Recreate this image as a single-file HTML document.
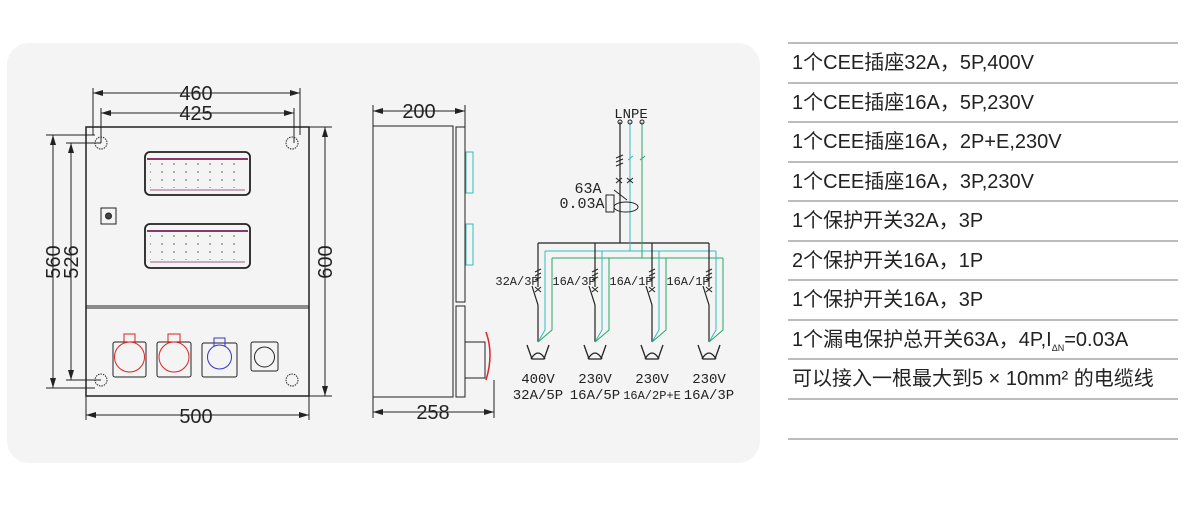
<!DOCTYPE html>
<html><head><meta charset="utf-8"><style>
body{margin:0;width:1199px;height:514px;background:#fff;overflow:hidden;position:relative;font-family:"Liberation Sans","Noto Sans CJK SC",sans-serif}
.bg{position:absolute;left:7px;top:43px;width:753px;height:420px;background:#f4f4f4;border-radius:22px}
.tbl{position:absolute;left:788px;top:42px;width:390px}
.row{height:37.5px;border-top:2px solid #bcbcbc;font-size:20px;line-height:38px;color:#222;padding-left:4px;white-space:nowrap}
svg{position:absolute;left:0;top:0}
</style></head><body>
<div class="bg"></div>
<svg width="1199" height="514" viewBox="0 0 1199 514" font-family="Liberation Sans, sans-serif">
<defs>
<marker id="a" viewBox="0 0 10 6" refX="10" refY="3" markerWidth="10" markerHeight="6" orient="auto-start-reverse"><path d="M0,0L10,3L0,6z" fill="#222"/></marker>
<pattern id="dots" width="12" height="8" patternUnits="userSpaceOnUse"><circle cx="6" cy="4" r="0.8" fill="#555"/></pattern>
</defs>
<g stroke="#222" fill="none" stroke-width="1">
<rect x="86" y="127" width="223" height="269" stroke-width="1.5"/>
<line x1="86" y1="306" x2="309" y2="306"/>
<line x1="86" y1="308" x2="309" y2="308"/>
<line x1="93" y1="93" x2="300" y2="93" marker-start="url(#a)" marker-end="url(#a)"/>
<line x1="93" y1="88" x2="93" y2="135"/><line x1="300" y1="88" x2="300" y2="135"/>
<line x1="101" y1="113" x2="294" y2="113" marker-start="url(#a)" marker-end="url(#a)"/>
<line x1="101" y1="108" x2="101" y2="143"/><line x1="294" y1="108" x2="294" y2="143"/>
<line x1="86" y1="415" x2="309" y2="415" marker-start="url(#a)" marker-end="url(#a)"/>
<line x1="86" y1="396" x2="86" y2="420"/><line x1="309" y1="396" x2="309" y2="420"/>
<line x1="53" y1="135" x2="53" y2="388" marker-start="url(#a)" marker-end="url(#a)"/>
<line x1="46" y1="135" x2="95" y2="135"/><line x1="46" y1="388" x2="95" y2="388"/>
<line x1="71" y1="143" x2="71" y2="380" marker-start="url(#a)" marker-end="url(#a)"/>
<line x1="66" y1="143" x2="101" y2="143"/><line x1="66" y1="380" x2="101" y2="380"/>
<line x1="325" y1="127" x2="325" y2="396" marker-start="url(#a)" marker-end="url(#a)"/>
<line x1="309" y1="127" x2="332" y2="127"/><line x1="309" y1="396" x2="332" y2="396"/>
<circle cx="101" cy="143" r="6" stroke-dasharray="1.5 1"/><circle cx="292" cy="143" r="6" stroke-dasharray="1.5 1"/>
<circle cx="101" cy="380" r="6" stroke-dasharray="1.5 1"/><circle cx="292" cy="380" r="6" stroke-dasharray="1.5 1"/>
<rect x="145" y="152" width="105" height="43" rx="5" stroke-width="1.8"/>
<line x1="147" y1="159" x2="248" y2="159" stroke="#8a3a6a" stroke-width="2"/>
<rect x="150" y="162" width="95" height="26" fill="url(#dots)" stroke="none"/>
<rect x="145" y="224" width="105" height="44" rx="5" stroke-width="1.8"/>
<line x1="147" y1="231" x2="248" y2="231" stroke="#8a3a6a" stroke-width="2"/>
<rect x="150" y="234" width="95" height="26" fill="url(#dots)" stroke="none"/>
<line x1="150" y1="190" x2="245" y2="190" stroke="#a06080"/>
<line x1="150" y1="262" x2="245" y2="262" stroke="#a06080"/>
<rect x="101" y="208" width="15" height="16"/><circle cx="108.5" cy="216" r="3" fill="#444"/>
<rect x="113" y="342" width="33" height="35" rx="2"/><circle cx="129.5" cy="357" r="15" stroke="#d22"/><path d="M124,343v-9h11v9" stroke="#d22"/>
<rect x="157" y="342" width="34" height="35" rx="2"/><circle cx="174" cy="357" r="15" stroke="#d22"/><path d="M168,343v-9h12v9" stroke="#d22"/>
<rect x="202" y="343" width="35" height="34" rx="2"/><circle cx="219.5" cy="357" r="12" stroke="#33c"/><path d="M214,346v-8h11v8" stroke="#33c"/>
<rect x="251" y="342" width="27" height="29" rx="2"/><circle cx="264.5" cy="357" r="10"/>
<rect x="373" y="126" width="80" height="271"/>
<rect x="456" y="127" width="9" height="175"/><rect x="456" y="306" width="9" height="91"/>
<line x1="373" y1="111" x2="465" y2="111" marker-start="url(#a)" marker-end="url(#a)"/>
<line x1="373" y1="105" x2="373" y2="126"/><line x1="465" y1="105" x2="465" y2="127"/>
<line x1="373" y1="412" x2="494" y2="412" marker-start="url(#a)" marker-end="url(#a)"/>
<line x1="373" y1="397" x2="373" y2="418"/><line x1="494" y1="380" x2="494" y2="418"/>
<rect x="466" y="152" width="7" height="41" stroke="#3bb"/><rect x="466" y="224" width="7" height="41" stroke="#3bb"/>
<rect x="465" y="342" width="20" height="36"/><path d="M486,332q8,22 0,48" stroke="#d22" stroke-width="1.5"/>
<path d="M620,122V243M538,243H709" stroke-width="1.2"/>
<path d="M630,122V251M545,251H716" stroke="#3bb"/>
<path d="M642,122V258M552,258H723" stroke="#2a6"/>
<circle cx="620" cy="122" r="2"/><circle cx="630" cy="122" r="2"/><circle cx="642" cy="122" r="2"/>
<path d="M616,158l7,-3M616,162l7,-3M616,166l7,-3"/>
<path d="M628,160l5,-4" stroke="#3bb"/><path d="M640,160l5,-4" stroke="#2a6"/>
<path d="M616,183l6,-5M616,178l6,5M627,183l6,-5M627,178l6,5"/>
<rect x="606" y="195" width="8" height="17"/>
<path d="M614,190l13,10"/>
<ellipse cx="626" cy="207" rx="12" ry="5"/>
<g id="br">
<path d="M538,243V287M532,286l6,19V330M538,330V342" stroke-width="1.2"/>
<path d="M545,251V330L538,342" stroke="#3bb"/>
<path d="M552,258V330L538,342" stroke="#2a6"/>
<path d="M535,272l6,-3M535,276l6,-3M535,280l6,-3"/>
<path d="M535,292l6,-5M535,287l6,5"/>
<path d="M527,345l5,14h12l5,-14M531,359q7,-12 14,0" stroke-width="1.3"/>
</g>
<use href="#br" x="57"/><use href="#br" x="114"/><use href="#br" x="171"/>
</g>
<g fill="#222" font-size="20" text-anchor="middle">
<text x="196" y="100">460</text><text x="196" y="120">425</text><text x="196" y="423">500</text>
<text transform="translate(60,262) rotate(-90)">560</text>
<text transform="translate(78,262) rotate(-90)">526</text>
<text transform="translate(332,262) rotate(-90)">600</text>
<text x="419" y="118">200</text><text x="433" y="419">258</text>
</g>
<g fill="#222" font-size="14" font-family="Liberation Mono, monospace" text-anchor="middle">
<text x="631" y="118" font-size="14">LNPE</text>
<text x="588" y="193" font-size="15">63A</text><text x="582" y="208" font-size="15">0.03A</text>
<text x="517" y="285" font-size="12">32A/3P</text><text x="574" y="285" font-size="12">16A/3P</text>
<text x="631" y="285" font-size="12">16A/1P</text><text x="688" y="285" font-size="12">16A/1P</text>
<text x="538" y="383">400V</text><text x="538" y="399">32A/5P</text>
<text x="595" y="383">230V</text><text x="595" y="399">16A/5P</text>
<text x="652" y="383">230V</text><text x="652" y="399" font-size="12">16A/2P+E</text>
<text x="709" y="383">230V</text><text x="709" y="399">16A/3P</text>
</g>
</svg>
<div class="tbl">
<div class="row">1个CEE插座32A，5P,400V</div>
<div class="row">1个CEE插座16A，5P,230V</div>
<div class="row">1个CEE插座16A，2P+E,230V</div>
<div class="row">1个CEE插座16A，3P,230V</div>
<div class="row">1个保护开关32A，3P</div>
<div class="row">2个保护开关16A，1P</div>
<div class="row">1个保护开关16A，3P</div>
<div class="row">1个漏电保护总开关63A，4P,I<sub style="font-size:9px">ΔN</sub>=0.03A</div>
<div class="row">可以接入一根最大到5 × 10mm² 的电缆线</div>
<div class="row" style="height:38px"></div>
<div class="row" style="height:0"></div>
</div>
</body></html>
